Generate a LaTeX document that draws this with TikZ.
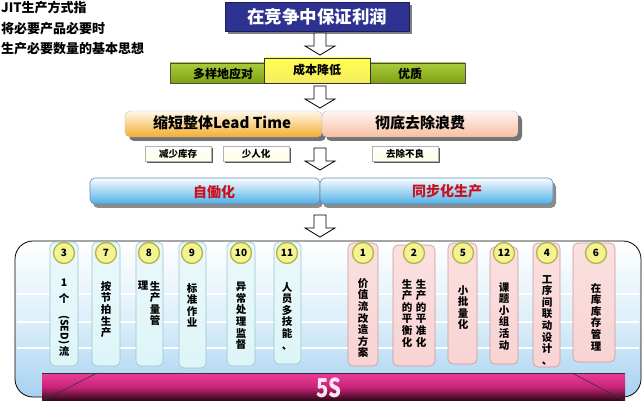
\documentclass[tikz,border=0pt]{standalone}
\usepackage{fontspec}
\setmainfont{Noto Sans CJK SC}
\usetikzlibrary{shadows}
\definecolor{navy}{HTML}{2D3190}
\definecolor{grn1}{HTML}{AACB3C}
\definecolor{grn2}{HTML}{80A212}
\definecolor{ylw1}{HTML}{FFFF50}
\definecolor{ylw2}{HTML}{F4EC60}
\definecolor{org1}{HTML}{FFF8EC}
\definecolor{org2}{HTML}{F4AE2E}
\definecolor{pch1}{HTML}{FFF6F2}
\definecolor{pch2}{HTML}{F7BFA2}
\definecolor{blu1}{HTML}{FAFDFF}
\definecolor{blu2}{HTML}{4FB0E6}
\definecolor{bluedge}{HTML}{5A8EB5}
\definecolor{redtxt}{HTML}{C8101E}
\definecolor{bgtop}{HTML}{FFFFFF}
\definecolor{bgmid}{HTML}{DDEFFA}
\definecolor{bgbot}{HTML}{A7D1F1}
\definecolor{cyfill}{HTML}{DDF5F8}
\definecolor{cyedge}{HTML}{9CC4CC}
\definecolor{pkfill}{HTML}{F9D3D3}
\definecolor{pkedge}{HTML}{C99A9A}
\definecolor{circf}{HTML}{F3F394}
\definecolor{circe}{HTML}{B4B444}
\definecolor{mag1}{HTML}{EC3C98}
\definecolor{mag2}{HTML}{C82478}
\definecolor{mag3}{HTML}{2A0614}
\definecolor{fivesc}{HTML}{FBE6F2}
\tikzset{
  harrow/.pic={\draw[line width=0.8, fill=white] (-6,0) -- (-6,13) -- (-15,13) -- (0,22) -- (15,13) -- (6,13) -- (6,0) -- cycle;},
  box/.style={anchor=north west, outer sep=0pt, inner sep=0pt},
  greenbar/.style={box, draw=black!70, line width=0.6, top color=grn1, bottom color=grn2},
  yellowbox/.style={box, draw=black!80, line width=0.6, top color=ylw1, bottom color=ylw2},
  orangebar/.style={box, draw=black!25, rounded corners=5, top color=org1, bottom color=org2, drop shadow={shadow xshift=4pt, shadow yshift=-4pt, fill=black!55, opacity=1}},
  peachbar/.style={box, draw=black!25, rounded corners=5, top color=pch1, bottom color=pch2, drop shadow={shadow xshift=4pt, shadow yshift=-4pt, fill=black!55, opacity=1}},
  smallbox/.style={box, draw=black!30, line width=0.5, top color=white, bottom color=org1!70!yellow!30, drop shadow={shadow xshift=2pt, shadow yshift=-2pt, fill=black!65, opacity=1}},
  bluebar/.style={box, draw=bluedge, line width=0.6, rounded corners=5, top color=blu1, bottom color=blu2, drop shadow={shadow xshift=3pt, shadow yshift=-4pt, fill=black!45, opacity=1}},
  colL/.style={box, draw=cyedge, line width=0.6, rounded corners=5, top color=cyfill!60!white, bottom color=cyfill},
  colR/.style={box, draw=pkedge, line width=0.6, rounded corners=5, top color=pkfill!70!white, bottom color=pkfill},
  num/.style={circle, draw=circe, line width=1.3, fill=circf, minimum size=21pt, inner sep=0pt, font=\bfseries\fontsize{10}{10}\selectfont},
  vt/.style={anchor=north, inner sep=0pt, align=center, font=\bfseries\fontsize{10.5}{11.6}\selectfont},
  lbl/.style={inner sep=0pt, font=\bfseries\fontsize{12}{12}\selectfont}
}
\newcommand\bx[6]{\node[#6, minimum width=#3-#2, minimum height=#5-#4] (#1) at (#2,#4) {};}
\begin{document}
\begin{tikzpicture}[x=1pt,y=-1pt]
\useasboundingbox (0,0) rectangle (643,401);
\fill[white] (0,0) rectangle (643,401);
% top-left text
\node[anchor=north west, align=left, inner sep=0pt, font=\bfseries\fontsize{13}{20.5}\selectfont] (intro) at (1,1) {JIT生产方式指\\将必要产品必要时\\生产必要数量的基本思想};
% title
\bx{title}{225}{409}{2}{31}{box, fill=navy, draw=navy!60!black, drop shadow={shadow xshift=3pt, shadow yshift=-3pt, fill=black!50, opacity=1}}
\node[text=white, font=\bfseries\fontsize{17.5}{17.5}\selectfont] (titletxt) at (title.center) {在竞争中保证利润};
\pic at (320,33) {harrow};
% row 2
\bx{g1}{170}{266}{63}{83}{greenbar}
\bx{g2}{369}{465}{63}{83}{greenbar}
\bx{yb}{264}{370}{58}{83}{yellowbox}
\node[lbl] (t1) at (223,74) {多样地应对};
\node[lbl] (t2) at (317,70) {成本降低};
\node[lbl] (t3) at (410,74) {优质};
\pic at (320,86) {harrow};
% row 3
\bx{ob}{125}{322}{111}{137}{orangebar}
\bx{pb}{322}{518}{111}{137}{peachbar}
\node[font=\bfseries\fontsize{15}{15}\selectfont, inner sep=0pt] (lt) at (222,123) {缩短整体Lead Time};
\node[font=\bfseries\fontsize{15}{15}\selectfont, inner sep=0pt] (wt) at (420,123) {彻底去除浪费};
\bx{s1}{145}{211}{146}{161}{smallbox}
\bx{s2}{223}{289}{146}{161}{smallbox}
\bx{s3}{372}{438}{146}{161}{smallbox}
\node[font=\bfseries\fontsize{9.5}{9.5}\selectfont, inner sep=0pt] at (s1.center) {减少库存};
\node[font=\bfseries\fontsize{9.5}{9.5}\selectfont, inner sep=0pt] at (s2.center) {少人化};
\node[font=\bfseries\fontsize{9.5}{9.5}\selectfont, inner sep=0pt] at (s3.center) {去除不良};
\pic at (320,148) {harrow};
% row 4
\bx{b1}{90}{320}{178}{204}{bluebar}
\bx{b2}{320}{553}{178}{204}{bluebar}
\node[text=redtxt, font=\bfseries\fontsize{14}{14}\selectfont, inner sep=0pt] (jd) at (214,192) {自働化};
\node[text=redtxt, font=\bfseries\fontsize{14}{14}\selectfont, inner sep=0pt] (tb) at (447,191) {同步化生产};
\pic at (320,215) {harrow};
% frame
\path[top color=bgtop, bottom color=bgbot, middle color=bgmid, rounded corners=18] (15,241) rectangle (641,397);
\foreach \yy in {294,322,348} \draw[white, line width=1.2] (17,\yy) -- (639,\yy);
\draw[line width=0.8, rounded corners=18] (15,241) rectangle (641,397);
% columns left
\bx{c3}{50}{78}{242}{366}{colL}
\bx{c7}{92}{120}{242}{366}{colL}
\bx{c8}{136}{163}{242}{366}{colL}
\bx{c9}{179}{206}{242}{368}{colL}
\bx{c10}{227}{255}{242}{366}{colL}
\bx{c11}{274}{301}{242}{364}{colL}
% columns right
\bx{c1}{348}{378}{243}{366}{colR}
\bx{c2}{393}{435}{245}{366}{colR}
\bx{c5}{448}{477}{243}{364}{colR}
\bx{c12}{490}{518}{247}{364}{colR}
\bx{c4}{533}{560}{243}{367}{colR}
\bx{c6}{573}{615}{243}{362}{colR}
% circles
\foreach \nm/\xx/\lab in {n3/64/3, n7/106/7, n8/149/8, n9/192/9, n10/241/10, n11/287/11, n1/363/1, n2/414/2, n5/463/5, n12/504/12, n4/547/4, n6/596/6}
  \node[num] (\nm) at (\xx,253) {\lab};
% vertical texts
\node[vt] (v3) at (64,279) {1\\[4pt]个\\[1pt]\rotatebox{-90}{(SED)}\\[1pt]流};
\node[vt] (v7) at (106,281) {按\\节\\拍\\生\\产};
\node[vt] (v8a) at (155,281) {生\\产\\量\\管};
\node[vt] (v8b) at (143,281) {理};
\node[vt] (v9) at (192,283) {标\\准\\作\\业};
\node[vt] (v10) at (241,282) {异\\常\\处\\理\\监\\督};
\node[vt] (v11) at (287,282) {人\\员\\多\\技\\能\\、};
\node[vt] (v1) at (363,278) {价\\值\\流\\改\\造\\方\\案};
\node[vt] (v2a) at (407,279) {生\\产\\的\\平\\衡\\化};
\node[vt] (v2b) at (421,279) {生\\产\\的\\平\\准\\化};
\node[vt] (v5) at (463,285) {小\\批\\量\\化};
\node[vt] (v12) at (504,282) {课\\题\\小\\组\\活\\动};
\node[vt] (v4) at (547,275) {工\\序\\间\\联\\动\\设\\计\\、};
\node[vt] (v6) at (596,283) {在\\库\\库\\存\\管\\理};
% 5S bar
\bx{fs}{42}{625}{373}{401}{box, top color=mag1, bottom color=mag3, middle color=mag2}
\draw[black!80, line width=0.6] (42,373) -- (625,373);
\draw[black!80, line width=0.6] (42,401) -- (97,373) (572,373) -- (625,401);
\node[text=fivesc, font=\bfseries\fontsize{26}{26}\selectfont, inner sep=0pt] (fivetxt) at (329,388) {\scalebox{0.78}[1]{5S}};
\end{tikzpicture}
\end{document}
